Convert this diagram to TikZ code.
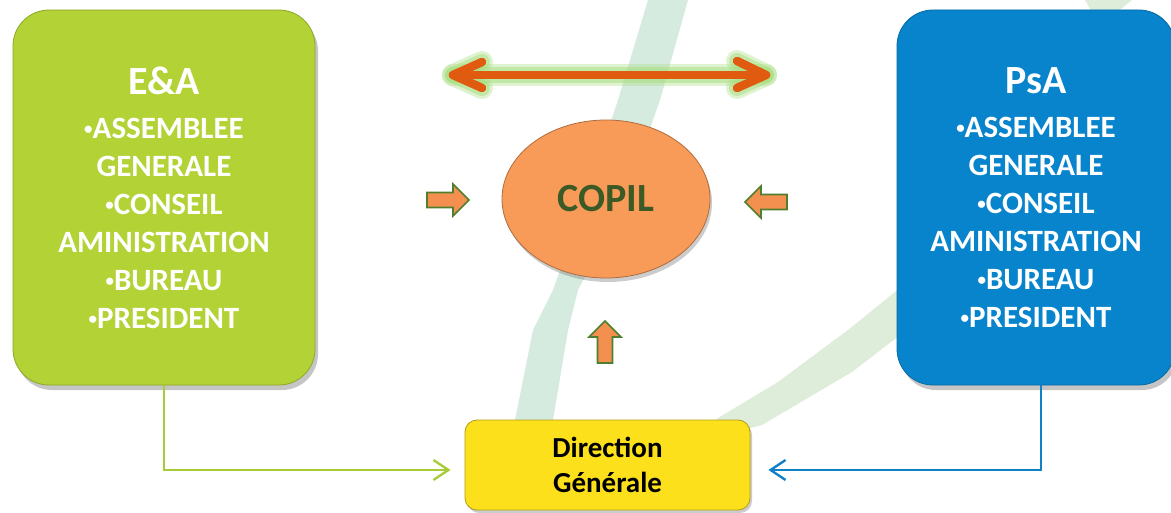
\documentclass[tikz,border=0pt]{standalone}
\usepackage{fontspec}
\setmainfont{Carlito}
\usetikzlibrary{shadows}
\usetikzlibrary{arrows.meta,shapes}
\usetikzlibrary{calc}

\definecolor{eagreen}{HTML}{B2D235}
\definecolor{psablue}{HTML}{0784CC}
\definecolor{dgyellow}{HTML}{FDE01C}
\definecolor{copilorange}{HTML}{F99B58}
\definecolor{copiltext}{HTML}{3B5A25}
\definecolor{linkorange}{HTML}{E05A10}
\definecolor{glowgreen}{HTML}{A6DE7E}
\definecolor{smallfill}{HTML}{F4904F}
\definecolor{smalledge}{HTML}{4F7F2E}
\definecolor{bandone}{HTML}{D6EBE0}
\definecolor{bandtwo}{HTML}{DDEDDA}
\definecolor{linkgreen}{HTML}{A8CC38}
\definecolor{linkblue}{HTML}{1080C8}

\newcommand\itm{\raisebox{4pt}{\fontsize{17}{17}\selectfont•}}

\tikzset{
	bigbox/.style={draw=#1!80!black, fill=#1, rounded corners=36pt, line width=0.8pt,
		text=white, align=center, inner sep=0pt, font=\fontsize{31}{38}\selectfont\bfseries,
		drop shadow={shadow xshift=3pt, shadow yshift=-5pt, opacity=0.45}},
	thinlink/.style={draw=#1, line width=2.4pt, -{Straight Barb[length=15pt, width=20pt]}},
	bigline/.style={line cap=round, line join=round},
	inarrow/.pic={
		\draw[smalledge, fill=smallfill, line width=1.6pt, line join=miter]
			(-21,-7.5) -- (5,-7.5) -- (5,-16) -- (21,0) -- (5,16) -- (5,7.5) -- (-21,7.5) -- cycle;
	}
}

\begin{document}
\begin{tikzpicture}[x=1pt, y=-1pt]
	\useasboundingbox[fill=white] (0,0) rectangle (1171,513);

	% background strokes
	\fill[bandone] (648,0) -- (688,0) -- (660,100) -- (625,200) -- (578,290) -- (568,330) -- (553,420)
		-- (515,420) -- (533,330) -- (553,290) -- (585,200) -- (618,100) -- cycle;
	\fill[bandtwo] (705,440) -- (762,425) -- (852,372) -- (900,335) -- (900,288) -- (848,330)
		-- (778,382) -- (718,418) -- cycle;
	\fill[bandtwo] (1085,0) -- (1132,0) -- (1112,16) -- (1094,16) -- cycle;

	\node[bigbox=eagreen, minimum width=302pt, minimum height=375pt] (ea) at (164,197.5)
		{{\fontsize{40}{40}\selectfont E\&A}\\[6pt] \itm ASSEMBLEE\\ GENERALE\\ \itm CONSEIL\\ AMINISTRATION\\ \itm BUREAU\\ \itm PRESIDENT};
	\node[bigbox=psablue, minimum width=278pt, minimum height=375pt] (psa) at (1036,197.5)
		{{\fontsize{40}{40}\selectfont PsA}\\[6pt] \itm ASSEMBLEE\\ GENERALE\\ \itm CONSEIL\\ AMINISTRATION\\ \itm BUREAU\\ \itm PRESIDENT};

	\node[ellipse, fill=copilorange, draw=copilorange!70!black, line width=0.8pt,
		minimum width=208pt, minimum height=158pt, text=copiltext, font=\fontsize{40}{40}\selectfont\bfseries,
		drop shadow={shadow xshift=2pt, shadow yshift=-4pt, opacity=0.4}] (copil) at (606,199) {COPIL};

	\node[fill=dgyellow, draw=dgyellow!70!black, line width=0.8pt, rounded corners=12pt,
		minimum width=285pt, minimum height=90pt, align=center, inner sep=0pt,
		font=\fontsize{29}{35}\selectfont\bfseries,
		drop shadow={shadow xshift=2pt, shadow yshift=-3pt, opacity=0.4}] (dg) at (607.5,465) {Direction\\Générale};

	% double arrow with glow
	\coordinate (la) at (453,75);
	\coordinate (ra) at (766,75);
	\foreach \w/\o/\c in {22/0.35/glowgreen, 16/0.5/glowgreen, 8.5/1/linkorange} {
		\draw[bigline, \c, opacity=\o, line width=\w pt] (la) -- (ra);
		\draw[bigline, \c, opacity=\o, line width=\w pt] ($(la)+(29,-13)$) -- (la) -- ($(la)+(29,13)$);
		\draw[bigline, \c, opacity=\o, line width=\w pt] ($(ra)+(-29,-14)$) -- (ra) -- ($(ra)+(-29,13)$);
	}

	% small arrows towards COPIL
	\pic at (448,200) {inarrow};
	\pic[rotate=180] at (766,202) {inarrow};
	\pic[rotate=90] at (605,342) {inarrow};

	\draw[thinlink=linkgreen] (ea.south) |- ([xshift=-14pt, yshift=-5pt]dg.west);
	\draw[thinlink=linkblue] ([xshift=5pt]psa.south) |- ([xshift=18pt, yshift=-5pt]dg.east);
\end{tikzpicture}
\end{document}
